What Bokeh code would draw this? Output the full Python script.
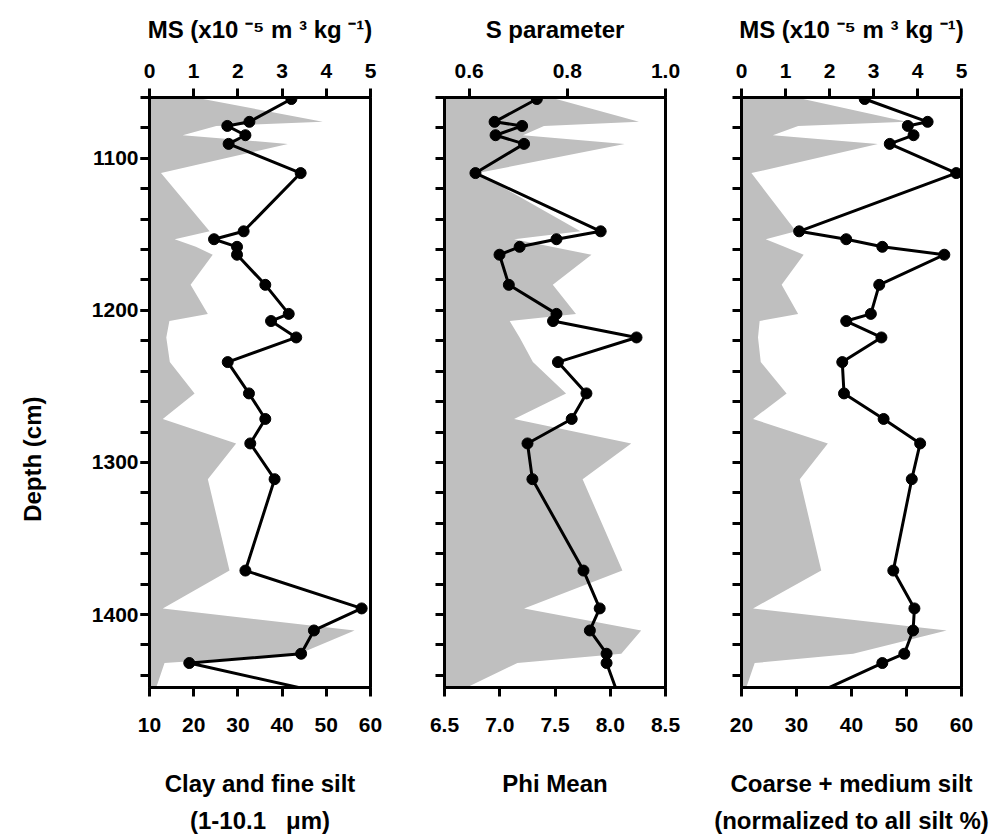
from bokeh.plotting import figure
from bokeh.models import Range1d, LinearAxis, FixedTicker, NumeralTickFormatter
from bokeh.layouts import row
from bokeh.embed import file_html
from bokeh.resources import INLINE

# ---------------- data ----------------
depth_cm = [1061, 1076, 1078.7, 1084.8, 1090.5, 1109.7, 1148, 1153.2, 1158.2, 1163.4,
            1183.2, 1202.3, 1207, 1217.8, 1234, 1254.6, 1271.4, 1287.5, 1311, 1371.1,
            1396, 1410.5, 1425.8, 1431.9, 1455]

ms_left = [3.21, 2.26, 1.76, 2.17, 1.79, 3.42, 2.13, 1.46, 1.98, 1.98,
           2.62, 3.15, 2.75, 3.32, 1.77, 2.25, 2.62, 2.28, 2.83, 2.17,
           4.80, 3.72, 3.43, 0.90, 4.45]

s_parameter = [0.738, 0.652, 0.708, 0.654, 0.712, 0.613, 0.868, 0.778, 0.703, 0.662,
               0.681, 0.778, 0.771, 0.941, 0.781, 0.839, 0.809, 0.719, 0.729, 0.833,
               0.866, 0.846, 0.880, 0.880, 0.906]

ms_right = [2.80, 4.23, 3.78, 3.91, 3.37, 4.88, 1.31, 2.38, 3.20, 4.61,
            3.13, 2.94, 2.38, 3.18, 2.29, 2.33, 3.23, 4.06, 3.87, 3.45,
            3.93, 3.90, 3.70, 3.20, 1.47]

clay_fine_silt = [22.1, 49.2, 25.1, 17.5, 41.3, 12.6, 23.6, 15.7, 20.5, 24.3,
                  19.3, 23.2, 14.5, 13.8, 14.6, 20.2, 13.0, 29.6, 23.2, 28.1,
                  13.0, 56.4, 43.9, 13.4, 10.7]

phi_mean = [7.51, 8.26, 7.40, 7.21, 8.13, 6.80, 7.73, 7.13, 7.47, 7.83,
            7.48, 7.69, 7.09, 7.18, 7.30, 7.60, 7.13, 8.19, 7.75, 8.11,
            7.22, 8.28, 8.10, 7.16, 6.50]

coarse_medium_silt = [31.2, 50.0, 30.3, 25.7, 44.8, 21.8, 29.9, 24.4, 27.8, 31.3,
                      27.3, 30.3, 23.3, 23.0, 23.5, 28.2, 22.1, 35.7, 30.6, 34.5,
                      22.1, 57.3, 40.3, 22.4, 20.2]

depth_major_ticks = [1100, 1200, 1300, 1400]
depth_minor_ticks = list(range(1060, 1450, 20))
ms_ticks = [0, 1, 2, 3, 4, 5]
s_ticks = [0.6, 0.8, 1.0]
clay_ticks = [10, 20, 30, 40, 50, 60]
phi_ticks = [6.5, 7.0, 7.5, 8.0, 8.5]
silt_ticks = [20, 30, 40, 50, 60]

FONT = "Liberation Sans"
GRAY = "#bfbfbf"
TOP_LABEL_MS = "MS (x10 \u207b\u2075 m \u00b3 kg \u207b\u00b9)"
# trailing no-break spaces push the rotated label below the frame centre
DEPTH_LABEL = "Depth (cm)" + "\u00a0" * 20


def style_axis(ax):
    ax.axis_line_width = 3
    ax.axis_line_color = "black"
    ax.major_tick_line_width = 3
    ax.major_tick_line_color = "black"
    ax.major_tick_out = 9
    ax.major_tick_in = 0
    ax.minor_tick_line_width = 3
    ax.minor_tick_line_color = "black"
    ax.minor_tick_out = 9
    ax.minor_tick_in = 0
    ax.major_label_text_font = FONT
    ax.major_label_text_font_style = "bold"
    ax.major_label_text_font_size = "21px"
    ax.major_label_text_color = "black"
    ax.axis_label_text_font = FONT
    ax.axis_label_text_font_style = "bold"
    ax.axis_label_text_font_size = "24px"
    ax.axis_label_text_color = "black"


def make_panel(top_range, top_ticks, top_fmt, top_label, line_x,
               bot_range, bot_ticks, bot_fmt, bot_label, fill_x,
               b_left, b_right, frame_w, show_depth):
    p = figure(frame_width=frame_w, frame_height=590,
               x_range=Range1d(*top_range), y_range=Range1d(1448, 1060),
               x_axis_location="above", toolbar_location=None,
               output_backend="svg",
               min_border_left=b_left, min_border_right=b_right,
               min_border_top=97, min_border_bottom=151)
    p.background_fill_color = "white"
    p.border_fill_color = "white"
    p.outline_line_color = "black"
    p.outline_line_width = 3
    p.xgrid.visible = False
    p.ygrid.visible = False

    p.extra_x_ranges = {"grain": Range1d(*bot_range)}
    bottom = LinearAxis(x_range_name="grain")
    p.add_layout(bottom, "below")

    # top axis
    tax = p.xaxis[0]
    tax.ticker = FixedTicker(ticks=top_ticks)
    tax.formatter = NumeralTickFormatter(format=top_fmt)
    tax.axis_label = top_label
    style_axis(tax)
    tax.major_label_standoff = 11
    tax.axis_label_standoff = 18

    # bottom axis
    bottom.ticker = FixedTicker(ticks=bot_ticks)
    bottom.formatter = NumeralTickFormatter(format=bot_fmt)
    bottom.axis_label = bot_label
    style_axis(bottom)
    bottom.major_label_standoff = 21
    bottom.axis_label_standoff = 35
    bottom.axis_label_text_line_height = 1.4

    # depth axis
    yax = p.yaxis[0]
    style_axis(yax)
    if show_depth:
        yax.ticker = FixedTicker(ticks=depth_major_ticks, minor_ticks=depth_minor_ticks)
        yax.major_label_standoff = 2
        yax.axis_label = DEPTH_LABEL
        yax.axis_label_standoff = 43
    else:
        yax.ticker = FixedTicker(ticks=[], minor_ticks=depth_minor_ticks)

    p.harea(x1=bot_range[0], x2=fill_x, y=depth_cm, x_range_name="grain",
            fill_color=GRAY, fill_alpha=1.0)
    p.line(line_x, depth_cm, line_color="black", line_width=3)
    p.scatter(line_x, depth_cm, size=11, fill_color="black", line_color="black")
    return p


p1 = make_panel((0, 5), ms_ticks, "0", TOP_LABEL_MS, ms_left,
                (10, 60), clay_ticks, "0",
                "Clay and fine silt\n(1-10.1\u00a0\u00a0 \u03bcm)", clay_fine_silt,
                149, 30, 221, True)
p2 = make_panel((0.55, 1.0), s_ticks, "0.0", "S parameter", s_parameter,
                (6.5, 8.5), phi_ticks, "0.0", "Phi Mean", phi_mean,
                44, 46, 221, False)
p3 = make_panel((0, 5), ms_ticks, "0", TOP_LABEL_MS, ms_right,
                (20, 60), silt_ticks, "0", "Coarse + medium silt\n(normalized to all silt %)",
                coarse_medium_silt,
                30, 30, 220, False)

layout = row(p1, p2, p3)
open("out.html", "w").write(file_html(layout, INLINE))
